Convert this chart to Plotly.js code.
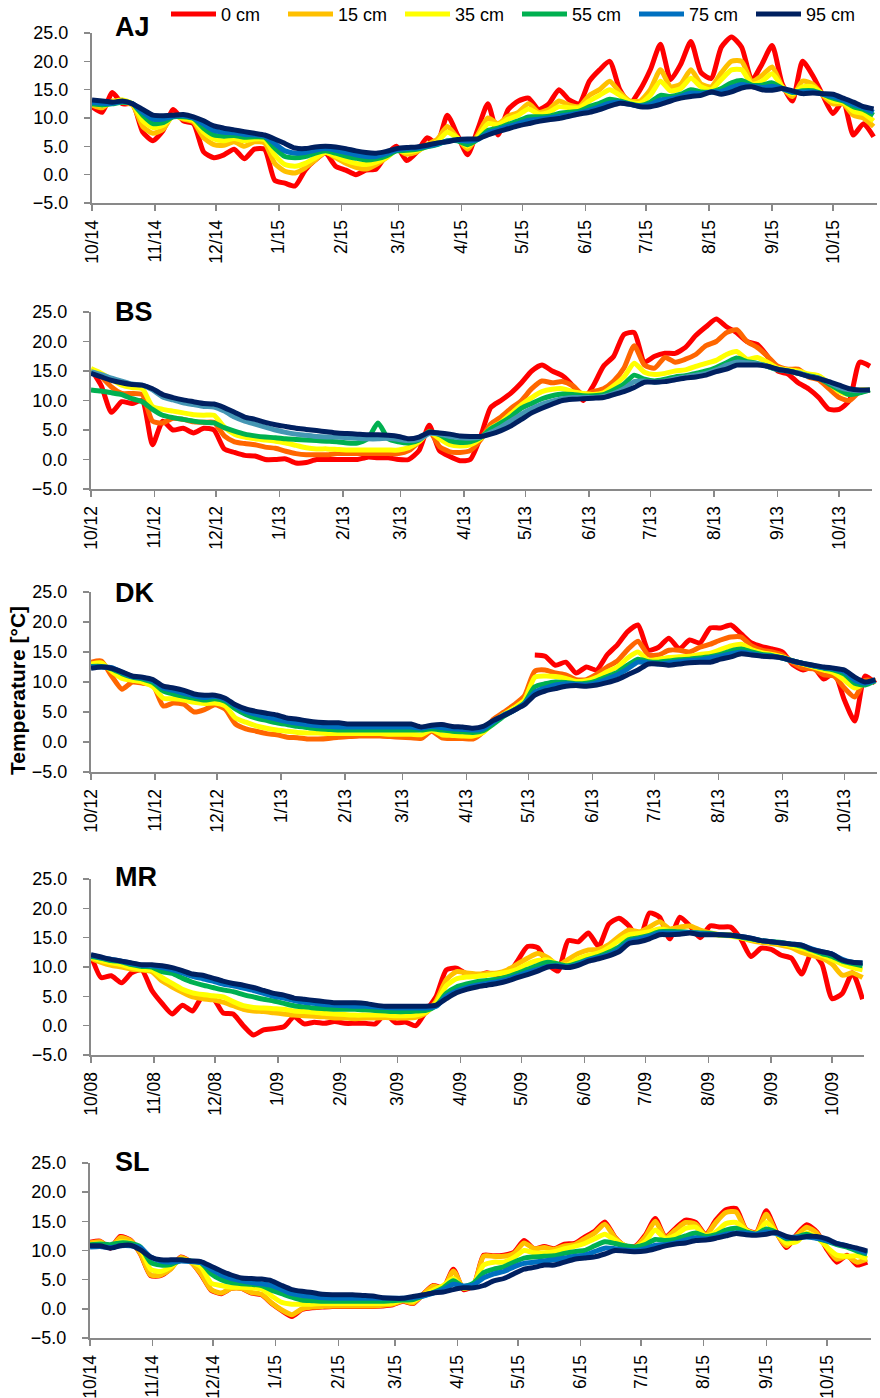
<!DOCTYPE html>
<html>
<head>
<meta charset="utf-8">
<script src="https://cdn.plot.ly/plotly-3.0.1.min.js"></script>
<style>html,body{margin:0;padding:0;background:#fff}#chart{width:880px;height:1398px}</style>
</head>
<body>
<div id="chart"></div>
<script>
// ---------- data (5-day sampling) ----------
const depthLabels = ["0 cm", "15 cm", "35 cm", "55 cm", "75 cm", "95 cm"];
const panelNames = ["AJ", "BS", "DK", "MR", "SL"];
const sampleStepDays = 5;

// AJ: from 2014-10-01
const ajStart = "2014-10-01";
const aj_0 = [12.0,11.0,14.5,12.5,12.5,7.5,6.0,7.8,11.5,9.5, 9.0,4.0,3.0,3.5,4.5,2.8,4.5,4.5,-1.0,-1.5, -2.0,0.8,2.6,3.8,1.5,0.8,0.0,0.8,1.0,3.5, 5.0,2.5,4.0,6.5,5.5,10.5,7.0,3.5,8.0,12.5, 7.0,11.5,13.0,13.5,11.5,12.5,15.0,13.2,12.5,16.5, 18.5,20.0,15.0,12.6,15.0,18.5,23.0,16.8,19.5,23.5, 18.0,17.0,22.5,24.3,22.5,16.7,19.5,22.8,16.0,13.0, 20.0,17.5,14.0,10.8,13.0,7.0,9.0,6.7];
const aj_15 = [12.3,11.8,13.0,12.8,12.3,8.5,7.3,8.0,10.5,9.8, 9.3,6.5,5.3,5.2,5.8,5.0,5.8,5.6,2.0,0.6, 0.3,1.2,2.6,4.0,3.0,2.0,1.3,1.0,1.8,3.0, 4.5,3.6,4.0,5.3,6.2,8.5,6.5,4.5,7.0,10.0, 9.0,10.3,11.0,12.5,11.0,11.5,13.0,12.3,12.0,14.0, 15.0,16.5,14.5,13.0,13.0,15.0,18.5,15.5,16.0,18.5, 16.0,15.5,18.0,20.0,20.0,16.5,17.5,19.0,15.5,13.8, 16.5,16.0,14.0,12.5,12.5,10.5,10.0,8.5];
const aj_35 = [12.6,12.2,12.8,13.2,12.5,9.5,8.3,8.7,10.3,10.0, 9.6,7.5,6.3,6.0,6.4,6.0,6.3,6.2,3.5,1.8, 1.5,2.0,3.0,3.9,3.3,2.5,2.0,1.8,2.2,3.0, 4.3,4.0,4.3,5.0,5.8,7.5,6.5,5.0,6.6,9.0, 8.8,9.8,10.5,11.6,10.7,11.0,12.0,11.8,11.8,13.0, 14.0,15.0,14.0,12.8,12.6,14.0,16.5,14.8,15.2,17.0, 15.5,15.0,16.8,18.5,18.5,16.0,16.5,17.8,15.5,14.3, 15.5,15.5,14.2,13.0,12.8,11.2,10.8,9.5];
const aj_55 = [12.5,12.3,12.5,12.8,12.5,10.5,9.0,9.2,10.2,10.2, 9.9,8.2,7.0,6.8,6.9,6.6,6.7,6.6,4.7,3.2, 3.0,3.2,3.8,4.2,3.8,3.3,2.9,2.6,2.8,3.3, 4.2,4.3,4.5,4.9,5.3,6.0,6.0,5.3,6.2,7.8, 8.2,8.9,9.5,10.2,10.2,10.3,10.8,11.0,11.2,12.0, 12.6,13.3,13.0,12.5,12.2,12.8,14.0,13.8,14.2,15.0, 14.6,14.6,15.2,16.2,16.6,15.8,15.8,16.2,15.2,14.5, 14.8,14.8,14.2,13.5,13.0,12.0,11.5,10.5];
const aj_75 = [12.8,12.6,12.6,12.9,12.5,11.0,9.8,9.8,10.3,10.4, 10.0,8.9,7.8,7.5,7.4,7.1,7.0,6.8,5.5,4.2, 3.8,3.9,4.3,4.6,4.3,3.9,3.5,3.2,3.2,3.7, 4.4,4.6,4.7,5.0,5.4,5.9,6.1,5.9,6.2,7.4, 7.9,8.5,9.0,9.6,9.8,10.0,10.3,10.6,10.9,11.4, 12.0,12.6,12.8,12.4,12.1,12.4,13.2,13.4,13.8,14.4, 14.3,14.6,14.7,15.4,15.9,15.6,15.4,15.6,15.2,14.6, 14.6,14.6,14.2,13.8,13.2,12.4,11.8,11.0];
const aj_95 = [13.2,13.0,12.8,13.0,12.5,11.5,10.5,10.4,10.5,10.6, 10.2,9.5,8.6,8.2,7.9,7.6,7.3,7.0,6.3,5.5, 4.7,4.6,4.9,5.0,4.9,4.6,4.2,3.9,3.8,4.1, 4.6,4.8,4.9,5.2,5.6,5.8,6.2,6.3,6.3,7.0, 7.6,8.1,8.6,9.0,9.4,9.7,9.9,10.3,10.7,11.0, 11.5,12.1,12.6,12.4,12.0,12.0,12.4,13.0,13.5,13.8, 14.0,14.6,14.2,14.6,15.3,15.5,15.0,14.9,15.2,14.8, 14.3,14.4,14.3,14.2,13.5,12.8,12.0,11.6];

// BS: from 2012-10-01
const bsStart = "2012-10-01";
const bs_0 = [15.3,12.5,8.0,9.8,9.5,10.0,2.5,6.5,5.0,5.3, 4.5,5.3,5.0,1.8,1.2,0.7,0.6,0.0,0.0,0.1, -0.6,-0.5,0.0,0.0,0.0,0.0,0.0,0.4,0.3,0.3, 0.0,0.0,1.5,5.8,1.5,0.5,-0.2,0.0,3.8,8.8, 10.0,11.3,13.0,15.0,16.0,15.0,14.2,12.5,10.0,12.5, 15.8,17.5,21.2,21.5,16.5,17.5,18.0,18.0,19.0,21.0, 22.5,23.8,22.5,21.5,20.0,19.5,17.5,15.0,14.5,13.0, 12.0,10.5,8.5,8.5,10.0,16.5,15.8];
const bs_15 = [15.2,14.0,12.3,11.2,11.2,11.0,6.5,6.2,7.0,6.8, 6.4,6.3,6.3,4.0,3.0,2.7,2.5,2.1,1.9,1.4, 1.0,0.8,0.8,0.8,1.0,1.0,1.0,1.0,1.0,1.0, 1.0,1.5,3.0,4.8,2.2,1.3,1.2,1.5,3.3,6.0, 7.2,8.7,10.0,12.0,13.3,13.0,13.2,12.5,11.0,11.5, 12.0,13.3,15.5,19.3,16.0,15.5,17.3,16.5,17.0,17.8, 19.3,20.0,21.5,22.0,20.0,19.0,17.5,15.8,15.3,15.3, 14.0,13.5,12.0,10.5,10.0,11.5,11.8];
const bs_35 = [15.4,14.6,13.6,12.6,12.2,12.0,9.0,8.5,8.2,7.9, 7.6,7.5,7.5,5.5,4.3,3.8,3.5,3.3,3.1,2.8, 2.4,2.0,1.8,1.8,1.7,1.6,1.6,1.6,1.6,1.6, 1.6,2.0,3.0,4.6,3.5,2.5,2.3,2.5,3.5,5.3, 6.3,7.8,9.3,10.5,11.5,11.9,12.0,11.5,11.2,11.0, 11.3,12.5,14.0,16.3,14.8,14.4,14.6,15.0,15.2,15.8, 16.3,16.8,17.8,18.3,17.0,17.3,16.5,15.5,15.2,15.0, 14.5,14.2,13.0,11.5,11.0,11.8,11.8];
const bs_55 = [11.8,11.6,11.3,11.0,10.3,9.8,8.5,7.5,7.1,6.8, 6.5,6.3,6.2,5.4,4.8,4.3,4.0,3.8,3.7,3.5, 3.4,3.3,3.2,3.1,3.0,2.8,2.8,3.5,6.2,3.5, 3.0,2.8,3.3,4.7,4.2,3.2,2.9,3.0,3.7,5.2, 6.2,7.3,8.7,9.5,10.3,10.8,11.1,11.0,10.8,10.8, 11.0,11.8,12.8,14.3,13.6,13.3,13.6,14.0,14.2,14.6, 15.0,15.6,16.4,17.2,16.6,16.3,15.8,15.2,15.0,14.6, 14.2,13.8,12.8,11.8,11.0,11.3,11.8];
const bs_75 = [14.9,14.4,13.8,13.3,12.8,12.6,11.8,10.6,10.1,9.6, 9.3,9.0,8.9,8.2,7.2,6.5,6.0,5.5,5.0,4.6, 4.3,4.1,3.9,3.8,3.8,3.7,3.6,3.5,3.5,3.6, 3.4,3.2,3.4,4.4,4.3,3.9,3.7,3.6,3.8,4.6, 5.5,6.6,7.7,8.6,9.4,9.9,10.3,10.5,10.5,10.5, 10.7,11.2,12.0,13.2,13.3,13.1,13.3,13.7,14.0,14.3, 14.6,15.2,16.0,16.5,16.4,16.2,15.8,15.3,15.0,14.7, 14.1,13.8,13.1,12.2,11.8,11.7,11.8];
const bs_95 = [14.6,14.0,13.4,13.0,12.7,12.6,12.0,11.0,10.5,10.1, 9.8,9.5,9.4,8.8,8.0,7.2,6.8,6.3,5.9,5.6, 5.3,5.1,4.9,4.7,4.5,4.4,4.3,4.2,4.2,4.1, 3.9,3.5,3.8,4.6,4.5,4.3,4.0,3.9,3.9,4.3, 4.9,5.7,6.8,7.9,8.7,9.4,10.0,10.2,10.3,10.4, 10.5,11.0,11.5,12.2,13.1,13.1,13.2,13.5,13.8,14.0, 14.3,14.9,15.3,16.0,16.0,16.0,15.8,15.3,15.0,14.6, 14.1,13.7,13.2,12.6,12.0,11.8,11.8];

// DK: from 2012-10-01 (0 cm sensor only from May 2013, i.e. sample index 43 on)
const dkStart = "2012-10-01";
const dk0FirstIndex = 43;
const dk_0 = [14.5,14.3,12.8,13.3,11.5,12.5,12.0, 14.5,16.2,18.4,19.5,15.3,15.8,17.3,15.5,17.0,16.5, 19.0,19.0,19.5,18.0,16.5,15.9,15.5,15.0,12.9,12.0, 12.5,10.5,11.5,7.0,3.5,11.0,9.8];
const dk_15 = [13.3,13.5,11.0,8.8,10.0,9.8,9.5,6.0,6.5,6.3, 5.0,5.4,6.2,5.5,3.0,2.2,1.8,1.4,1.2,0.8, 0.7,0.5,0.5,0.6,0.8,0.9,1.0,1.0,1.0,0.9, 0.8,0.7,0.6,1.8,0.7,0.6,0.6,0.5,1.7,3.8, 5.0,6.2,7.7,11.8,12.0,11.5,11.2,10.4,10.4,11.3, 12.5,13.5,15.4,16.8,14.5,14.5,15.3,15.3,15.0,15.8, 16.3,17.0,17.5,17.5,16.0,15.3,15.0,14.5,13.2,12.3, 12.2,11.2,11.0,9.0,7.5,10.3,10.2];
const dk_35 = [13.0,13.2,11.8,10.6,10.3,10.0,9.2,7.3,7.2,7.0, 6.6,6.4,6.5,6.0,4.0,3.3,2.7,2.3,2.0,1.8, 1.6,1.5,1.5,1.4,1.4,1.4,1.4,1.4,1.4,1.3, 1.3,1.3,1.2,2.0,1.2,1.1,1.0,1.0,1.6,3.2, 4.6,5.7,7.0,10.8,11.0,10.9,10.6,10.1,10.2,10.8, 11.7,12.5,14.0,15.0,13.6,13.8,14.1,14.2,14.3,14.6, 14.8,15.4,16.0,16.3,15.4,14.9,14.6,14.2,13.5,13.0, 12.5,12.0,11.5,10.3,9.0,9.8,10.2];
const dk_55 = [12.6,12.6,12.2,11.4,10.8,10.5,9.9,8.5,8.0,7.6, 7.3,7.0,7.2,6.8,5.5,4.6,4.0,3.6,3.2,2.9, 2.6,2.4,2.2,2.1,2.0,2.0,2.0,2.0,2.0,2.0, 2.0,2.0,2.0,2.2,2.0,1.8,1.7,1.6,1.9,3.0, 4.3,5.3,6.5,9.2,9.7,10.0,9.9,9.7,9.8,10.2, 10.9,11.6,12.8,13.8,13.4,13.3,13.5,13.7,13.8,14.0, 14.2,14.6,15.2,15.5,15.0,14.6,14.4,14.0,13.5,13.1, 12.7,12.3,12.0,11.3,9.8,9.5,10.2];
const dk_75 = [12.5,12.5,12.4,11.6,10.9,10.7,10.2,9.0,8.6,8.1, 7.7,7.4,7.6,7.1,6.0,5.1,4.6,4.2,3.8,3.4, 3.1,2.9,2.7,2.6,2.5,2.5,2.5,2.5,2.5,2.5, 2.5,2.5,2.3,2.6,2.4,2.2,2.1,2.0,2.2,3.4, 4.5,5.3,6.4,8.3,9.0,9.5,9.7,9.6,9.5,9.9, 10.5,11.2,12.2,13.3,13.2,13.0,13.2,13.4,13.6,13.7, 14.0,14.3,14.7,15.0,14.7,14.4,14.3,14.0,13.5,13.1, 12.7,12.4,12.2,11.7,10.3,9.8,10.3];
const dk_95 = [12.3,12.5,12.3,11.7,11.0,10.8,10.4,9.3,9.0,8.6, 8.0,7.8,7.8,7.3,6.2,5.5,5.1,4.8,4.5,4.0, 3.8,3.5,3.3,3.2,3.2,3.0,3.0,3.0,3.0,3.0, 3.0,3.0,2.5,2.8,2.9,2.6,2.5,2.3,2.6,3.6, 4.4,5.3,6.2,7.8,8.5,8.9,9.3,9.4,9.3,9.5, 9.9,10.4,11.2,12.0,13.0,13.0,12.8,13.0,13.2,13.3, 13.3,13.8,14.2,14.7,14.5,14.3,14.2,14.0,13.5,13.1, 12.8,12.5,12.3,12.0,10.8,10.0,10.4];

// MR: from 2008-10-01
const mrStart = "2008-10-01";
const mr_0 = [12.0,8.2,8.5,7.3,9.0,9.5,6.0,3.8,2.0,3.5, 2.5,5.0,4.8,2.2,2.0,0.0,-1.6,-0.7,-0.5,-0.2, 1.5,0.3,0.6,0.4,0.7,0.4,0.4,0.4,0.3,2.0, 0.5,0.6,0.0,2.5,5.0,9.5,9.8,8.8,8.5,9.0, 8.5,8.6,11.0,13.5,13.3,10.5,9.3,14.5,14.3,15.8, 13.5,17.3,18.3,17.0,14.5,19.2,18.5,14.8,18.5,17.0, 15.0,17.0,16.8,16.8,14.8,11.8,13.2,13.0,12.0,11.5, 8.8,12.5,10.5,4.6,5.5,9.0,4.5];
const mr_15 = [11.5,10.8,10.3,10.0,9.6,9.5,9.2,7.6,6.6,5.7, 4.9,4.6,4.4,4.0,3.4,2.8,2.5,2.4,2.2,2.0, 1.8,1.7,1.6,1.5,1.3,1.3,1.2,1.3,1.3,1.4, 1.3,1.3,1.4,2.2,4.2,7.8,9.2,9.0,8.8,8.9, 9.0,9.5,10.5,11.5,12.3,11.6,10.3,11.3,12.3,12.9, 13.0,13.8,15.2,16.3,16.0,16.8,17.7,16.5,16.8,17.0, 16.3,15.8,15.5,15.5,15.0,14.5,14.2,14.0,13.7,13.3, 12.5,12.0,11.5,10.5,8.6,9.0,8.2];
const mr_35 = [11.7,11.1,10.7,10.4,9.9,9.6,9.5,8.2,7.2,6.2, 5.6,5.3,5.1,4.9,4.1,3.4,3.1,3.0,2.9,2.8, 2.5,2.4,2.3,2.1,2.0,1.9,1.8,1.8,1.8,1.8, 1.7,1.7,1.8,2.3,3.8,6.8,8.0,8.3,8.4,8.6, 8.8,9.1,9.6,10.5,11.1,11.2,10.5,10.4,11.4,12.0, 12.4,13.3,14.5,15.5,15.7,16.0,16.5,16.2,16.0,15.9, 15.8,15.6,15.4,15.3,15.0,14.7,14.4,14.2,14.0,13.6, 13.2,12.6,12.0,11.3,10.5,9.9,9.5];
const mr_55 = [11.8,11.5,11.1,10.9,10.4,10.1,10.0,9.2,8.9,8.1, 7.4,6.9,6.5,6.1,5.8,5.3,4.9,4.5,4.2,3.8, 3.4,3.2,3.0,2.9,2.8,2.8,2.8,2.7,2.6,2.5, 2.4,2.4,2.5,2.6,3.4,5.5,6.6,7.1,7.5,7.7, 7.9,8.3,8.9,9.6,10.3,10.8,10.5,10.2,10.7,11.3, 11.8,12.5,13.4,14.7,15.0,15.4,16.0,16.1,16.0,15.9, 15.8,15.7,15.5,15.4,15.1,14.8,14.5,14.3,14.2,13.9, 13.5,12.9,12.3,11.8,11.0,10.6,10.2];
const mr_75 = [12.0,11.6,11.3,11.0,10.6,10.3,10.2,9.9,9.5,9.0, 8.4,8.0,7.6,7.1,6.8,6.4,6.0,5.5,5.0,4.7, 4.3,4.0,3.8,3.6,3.5,3.4,3.3,3.3,3.2,3.1, 3.0,3.0,3.0,3.0,3.3,5.0,5.9,6.5,6.9,7.2, 7.5,7.9,8.5,9.1,9.6,10.1,10.2,10.0,10.5,11.2, 11.6,12.1,13.0,14.3,14.8,15.2,15.8,15.8,15.8,15.9, 15.7,15.6,15.5,15.4,15.2,14.9,14.5,14.3,14.1,13.9, 13.7,13.1,12.6,12.2,11.3,10.8,10.7];
const mr_95 = [12.1,11.7,11.3,11.0,10.7,10.4,10.4,10.2,9.9,9.4, 8.8,8.6,8.1,7.6,7.2,6.9,6.5,6.0,5.5,5.2, 4.7,4.5,4.3,4.1,3.9,3.9,3.9,3.8,3.5,3.3, 3.3,3.3,3.3,3.3,3.5,4.6,5.6,6.2,6.6,6.9, 7.2,7.6,8.2,8.7,9.3,10.0,10.1,9.9,10.3,11.0, 11.4,11.9,12.6,14.0,14.3,14.8,15.5,15.5,15.6,15.8, 15.5,15.5,15.5,15.4,15.2,14.9,14.5,14.3,14.1,13.9, 13.7,13.0,12.6,12.2,11.2,10.8,10.7];

// SL: from 2014-10-01
const slStart = "2014-10-01";
const sl_0 = [11.4,11.6,10.4,12.4,11.8,9.4,5.7,5.7,6.9,8.9, 8.0,5.9,3.2,2.6,3.5,3.5,2.7,2.4,0.9,-0.3, -1.3,-0.1,0.2,0.3,0.4,0.4,0.4,0.4,0.4,0.5, 0.7,1.3,0.9,2.5,4.0,3.6,6.8,3.3,4.0,9.2, 9.1,9.2,9.7,11.7,10.3,10.7,10.3,11.1,11.2,12.3, 13.3,14.9,12.3,10.8,10.7,12.6,15.5,12.3,13.8,15.2, 14.8,12.7,15.2,17.0,17.2,13.6,13.1,16.8,13.2,10.5, 12.7,14.4,13.2,10.2,8.0,9.2,7.5,8.0];
const sl_15 = [11.3,11.5,10.5,12.2,11.7,9.5,5.8,5.8,6.8,8.8, 8.0,6.0,3.3,2.7,3.5,3.5,2.8,2.5,1.0,-0.2, -1.0,0.0,0.3,0.4,0.5,0.5,0.5,0.5,0.5,0.6, 0.8,1.4,1.0,2.5,3.9,3.5,6.5,3.5,4.0,9.0, 9.0,9.0,9.5,11.3,10.3,10.5,10.2,10.8,11.0,12.0, 13.0,14.5,12.2,10.8,10.6,12.3,15.0,12.2,13.5,14.8, 14.5,12.6,14.8,16.5,16.6,13.5,13.0,16.2,13.0,10.8, 12.5,14.0,13.0,10.5,8.5,9.0,8.0,8.5];
const sl_35 = [11.0,11.2,10.8,11.5,11.3,10.3,6.8,6.4,7.2,8.5, 8.1,7.2,4.4,4.0,3.7,3.7,3.6,3.4,2.2,1.1, 0.8,0.8,0.8,0.9,0.9,0.9,0.9,0.9,0.9,0.9, 1.0,1.5,1.3,2.3,3.2,4.0,5.2,3.5,4.3,7.5, 8.0,8.0,8.8,10.0,9.6,9.6,9.8,10.3,10.7,11.2, 12.0,12.8,11.8,10.8,10.5,11.5,13.5,12.0,12.6,13.8, 14.0,12.5,13.2,14.6,14.8,13.5,12.8,14.8,13.0,11.3, 11.5,13.0,12.3,10.6,9.2,9.0,9.1,8.6];
const sl_55 = [11.0,11.1,11.0,11.3,11.2,10.6,8.0,7.5,7.6,8.3, 8.2,7.9,6.0,5.0,4.5,4.3,4.2,4.0,3.2,2.6, 2.0,1.5,1.4,1.3,1.3,1.3,1.3,1.3,1.3,1.3, 1.4,1.5,1.6,2.2,2.8,3.6,4.8,3.8,4.4,6.2, 6.8,7.2,8.0,8.7,8.9,9.0,9.1,9.5,9.8,10.0, 10.8,11.5,11.2,10.8,10.6,11.0,11.9,11.7,11.9,12.5, 13.0,12.4,12.7,13.5,13.8,13.2,12.8,13.7,13.1,12.0, 12.3,12.8,12.1,11.6,11.0,10.6,9.9,9.4];
const sl_75 = [10.6,10.7,10.5,10.8,10.8,10.5,8.9,8.2,8.0,8.2, 8.1,7.9,6.8,5.8,5.2,4.8,4.5,4.3,4.0,3.3, 2.6,2.3,2.1,1.9,1.8,1.8,1.8,1.8,1.8,1.8, 1.8,1.8,1.9,2.2,2.7,3.3,4.2,3.9,4.1,5.3, 6.0,6.4,7.2,7.8,8.0,8.2,8.4,8.7,9.0,9.2, 9.8,10.4,10.3,10.1,10.0,10.3,10.9,11.0,11.3,11.8, 12.2,12.0,12.3,12.8,13.0,13.0,12.8,13.2,12.9,12.2, 12.3,12.3,12.1,11.7,11.2,10.8,10.2,9.6];
const sl_95 = [10.8,10.8,10.4,10.8,10.9,10.1,8.9,8.4,8.4,8.4, 8.2,8.1,7.3,6.5,5.8,5.3,5.2,5.1,4.8,4.0, 3.3,3.0,2.8,2.5,2.4,2.4,2.4,2.3,2.2,1.9, 1.8,1.8,2.1,2.4,2.7,2.9,3.3,3.6,3.6,4.0, 4.8,5.2,6.0,6.8,7.1,7.5,7.5,8.0,8.5,8.7, 8.9,9.4,10.0,9.9,9.8,9.9,10.3,10.8,11.1,11.3, 11.7,11.8,12.1,12.5,12.9,12.7,12.6,12.8,13.1,12.4, 12.1,12.4,12.4,12.0,11.2,10.8,10.4,9.9];

// ---------- styling ----------
const colStd = ["#FF0000", "#FFC000", "#FFFF00", "#00B050", "#0070C0", "#002060"];
const colBS  = ["#FF0000", "#FF6600", "#FFFF00", "#00B050", "#4496B4", "#002060"];
const colDK  = ["#FF0000", "#FF6600", "#FFFF00", "#00B050", "#0070C0", "#002060"];

const W = 880, H = 1398;
const FONT = 'Arial, "Liberation Sans", sans-serif';
const AXC = "#898989";

function dateGrid(start, n) {
  const t0 = Date.parse(start + "T00:00:00Z");
  const out = [];
  for (let i = 0; i < n; i++) out.push(new Date(t0 + i * sampleStepDays * 86400000).toISOString().slice(0, 10));
  return out;
}

// pixel boxes of each plot area: [left, right, top, bottom] and x-range end
const panels = [
  {name: "AJ", start: ajStart, end: "2015-10-22 16:00", box: [92, 877, 33, 203], label: 27,
   series: [aj_0, aj_15, aj_35, aj_55, aj_75, aj_95], colors: colStd},
  {name: "BS", start: bsStart, end: "2013-10-17 00:00", box: [91, 872, 312, 489], label: 312,
   series: [bs_0, bs_15, bs_35, bs_55, bs_75, bs_95], colors: colBS},
  {name: "DK", start: dkStart, end: "2013-10-16 19:00", box: [91, 877, 592, 772], label: 593,
   series: [dk_0, dk_15, dk_35, dk_55, dk_75, dk_95], colors: colDK, firstIdx0: dk0FirstIndex},
  {name: "MR", start: mrStart, end: "2009-10-16 17:00", box: [91, 864, 879, 1055], label: 877,
   series: [mr_0, mr_15, mr_35, mr_55, mr_75, mr_95], colors: colStd},
  {name: "SL", start: slStart, end: "2015-10-22 21:00", box: [90, 871, 1163, 1338], label: 1162,
   series: [sl_0, sl_15, sl_35, sl_55, sl_75, sl_95], colors: colStd}
];

const traces = [];
const layout = {
  width: W, height: H,
  margin: {l: 0, r: 0, t: 0, b: 0, autoexpand: false},
  paper_bgcolor: "#fff", plot_bgcolor: "#fff",
  font: {family: FONT, size: 18, color: "#000"},
  showlegend: true,
  legend: {orientation: "h", x: 166 / W, y: 1.003, xanchor: "left", yanchor: "top",
           font: {family: FONT, size: 18, color: "#000"}, bgcolor: "rgba(0,0,0,0)",
           itemwidth: 45, entrywidth: 57, entrywidthmode: "pixels",
           tracegroupgap: 0, traceorder: "normal"},
  annotations: []
};

panels.forEach((p, k) => {
  const xa = k === 0 ? "x" : "x" + (k + 1);
  const ya = k === 0 ? "y" : "y" + (k + 1);
  const n = p.series[1].length;
  const dates = dateGrid(p.start, n);
  p.series.forEach((vals, j) => {
    let xs = dates;
    if (j === 0 && p.firstIdx0) xs = dates.slice(p.firstIdx0);
    traces.push({
      type: "scatter", mode: "lines", x: xs, y: vals, xaxis: xa, yaxis: ya,
      name: depthLabels[j], legendgroup: depthLabels[j], showlegend: k === 0,
      line: {color: p.colors[j], width: 5, shape: "spline", smoothing: 0.6},
      hoverinfo: "skip"
    });
  });
  const [l, r, t, b] = p.box;
  layout["xaxis" + (k === 0 ? "" : k + 1)] = {
    domain: [l / W, r / W], anchor: ya, type: "date",
    range: [p.start, p.end], tick0: p.start, dtick: "M1", tickformat: "%-m/%y",
    tickangle: -90, ticks: "outside", ticklen: 6, tickwidth: 1.5, tickcolor: AXC,
    showline: true, linecolor: AXC, linewidth: 2, showgrid: false, zeroline: false,
    tickfont: {family: FONT, size: 17.5, color: "#000"}, ticklabelstandoff: 2, fixedrange: true
  };
  layout["yaxis" + (k === 0 ? "" : k + 1)] = {
    domain: [1 - b / H, 1 - t / H], anchor: xa, range: [-5, 25], dtick: 5, tick0: 0,
    tickformat: ".1f", ticks: "outside", ticklen: 6, tickwidth: 1.5, tickcolor: AXC,
    showline: true, linecolor: AXC, linewidth: 2, showgrid: false, zeroline: false,
    tickfont: {family: FONT, size: 18, color: "#000"}, ticklabelstandoff: 12, fixedrange: true
  };
  layout.annotations.push({
    text: "<b>" + p.name + "</b>", xref: "paper", yref: "paper",
    x: 113 / W, y: 1 - p.label / H, xanchor: "left", yanchor: "middle",
    showarrow: false, font: {family: FONT, size: 27, color: "#000"}
  });
});

layout.annotations.push({
  text: "<b>Temperature [°C]</b>", xref: "paper", yref: "paper",
  x: 18 / W, y: 1 - 691 / H, xanchor: "center", yanchor: "middle", textangle: -90,
  showarrow: false, font: {family: FONT, size: 21, color: "#000"}
});

Plotly.newPlot("chart", traces, layout, {staticPlot: true, displayModeBar: false});
</script>
</body>
</html>
